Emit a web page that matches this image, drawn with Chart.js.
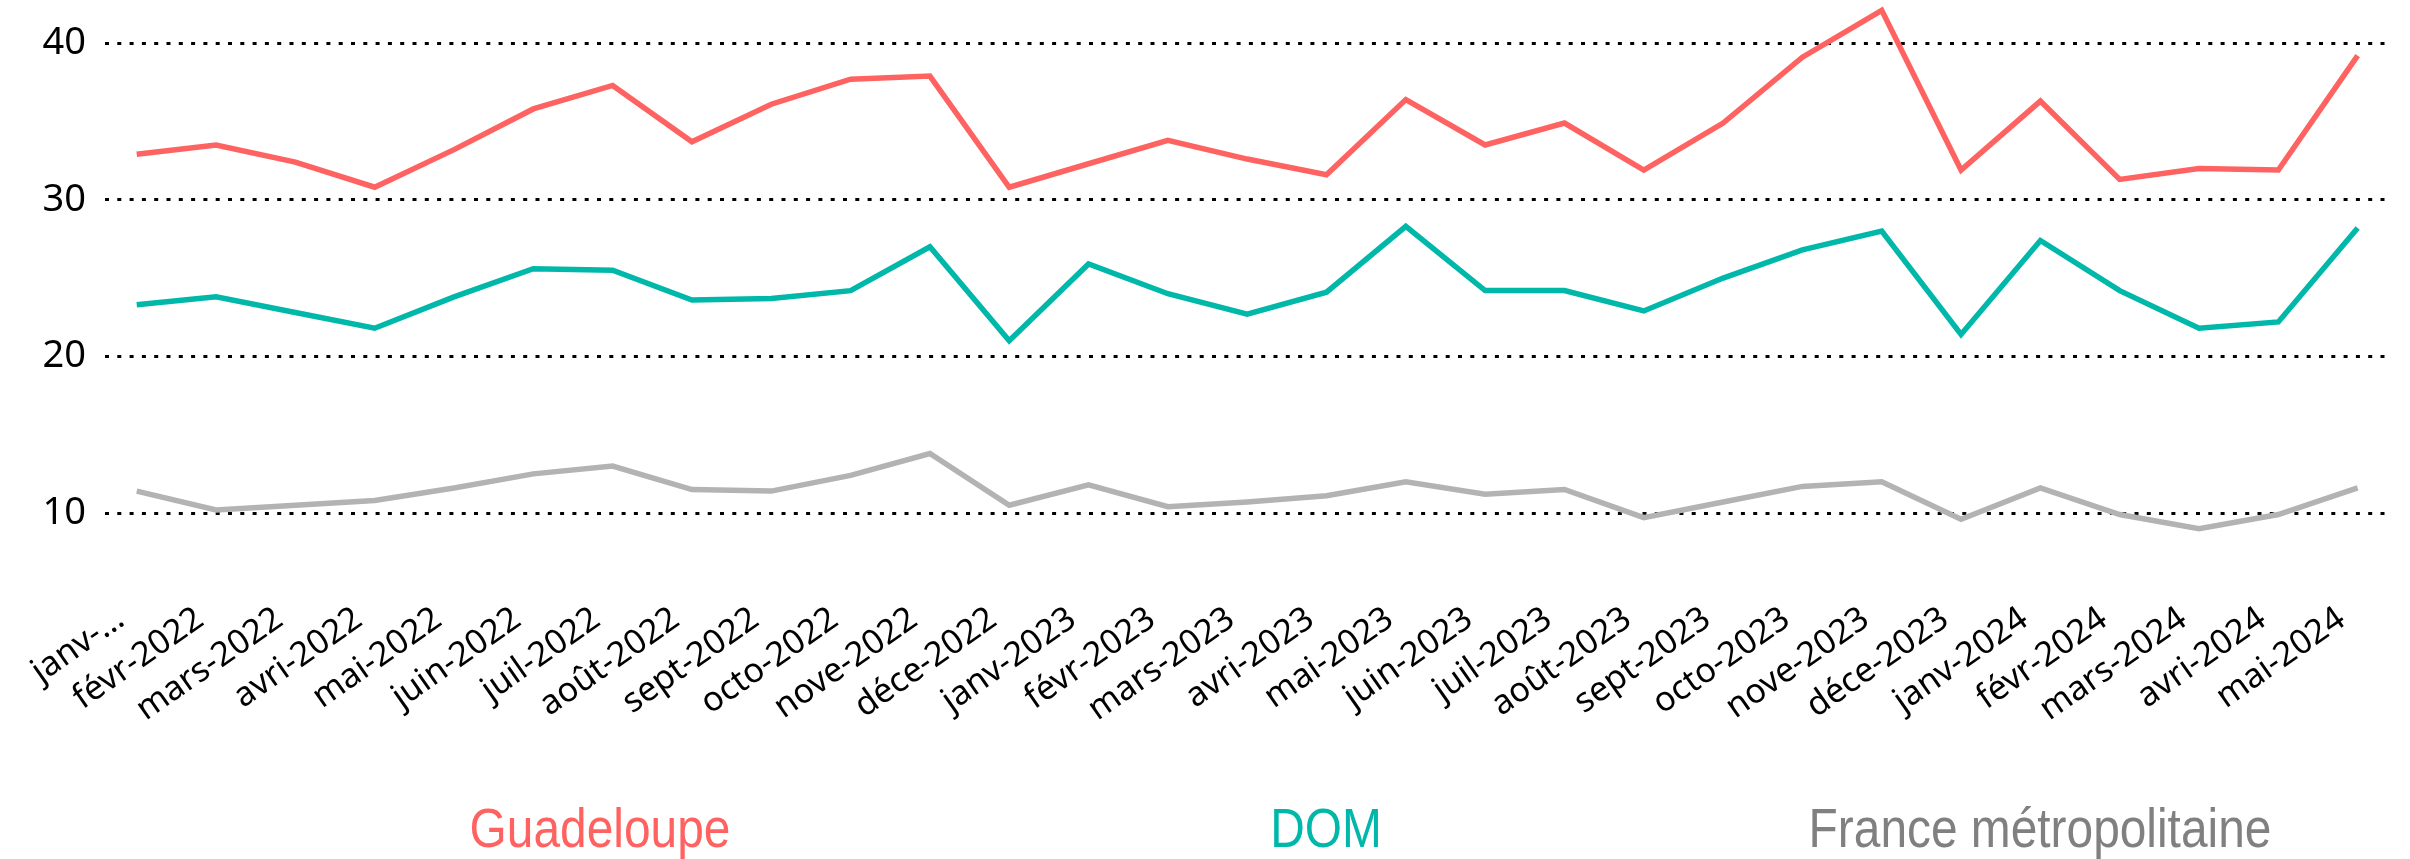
<!DOCTYPE html>
<html lang="fr">
<head>
<meta charset="utf-8">
<script src="https://cdn.jsdelivr.net/npm/chart.js@4"></script>
<style>
  html, body { margin: 0; padding: 0; background: #fff; }
  #wrap { position: relative; width: 2410px; height: 859px; }
  #chart { position: absolute; left: 0; top: 0; }
  #legend { position: absolute; left: 0; top: 801px; width: 2410px; height: 58px; }
  #legend span {
    position: absolute; top: 0; white-space: nowrap;
    transform: translateX(-50%) scaleX(0.87);
    font-family: "Liberation Sans", Arial, sans-serif;
    font-size: 55px; line-height: 55px;
  }
</style>
</head>
<body>
<div id="wrap">
  <canvas id="chart" width="2410" height="760"></canvas>
  <div id="legend"></div>
</div>
<script>
const months = [
  "janv-2022", "févr-2022", "mars-2022", "avri-2022", "mai-2022", "juin-2022",
  "juil-2022", "août-2022", "sept-2022", "octo-2022", "nove-2022", "déce-2022",
  "janv-2023", "févr-2023", "mars-2023", "avri-2023", "mai-2023", "juin-2023",
  "juil-2023", "août-2023", "sept-2023", "octo-2023", "nove-2023", "déce-2023",
  "janv-2024", "févr-2024", "mars-2024", "avri-2024", "mai-2024"
];

const guadeloupe = [
  32.9, 33.5, 32.4, 30.8, 33.2, 35.8, 37.3, 33.7, 36.1, 37.7, 37.9, 30.8,
  32.3, 33.8, 32.6, 31.6, 36.4, 33.5, 34.9, 31.9, 34.9, 39.1, 42.1, 31.9,
  36.3, 31.3, 32.0, 31.9, 39.2
];
const dom = [
  23.3, 23.8, 22.8, 21.8, 23.8, 25.6, 25.5, 23.6, 23.7, 24.2, 27.0, 21.0,
  25.9, 24.0, 22.7, 24.1, 28.3, 24.2, 24.2, 22.9, 25.0, 26.8, 28.0, 21.4,
  27.4, 24.2, 21.8, 22.2, 28.2
];
const franceMetro = [
  11.4, 10.2, 10.5, 10.8, 11.6, 12.5, 13.0, 11.5, 11.4, 12.4, 13.8, 10.5,
  11.8, 10.4, 10.7, 11.1, 12.0, 11.2, 11.5, 9.7, 10.7, 11.7, 12.0, 9.6,
  11.6, 9.9, 9.0, 9.9, 11.6
];

const yTicks = [10, 20, 30, 40];

const seriesNames = ["Guadeloupe", "DOM", "France métropolitaine"];
const lineColors = ["#ff6361", "#00b8a9", "#b3b3b3"];
const legendColors = ["#ff6361", "#00b8a9", "#808080"];

function toPoints(values) {
  return values.map((v, i) => ({ x: i, y: v }));
}

const fontFamily = "'Noto Sans', 'DejaVu Sans', sans-serif";

const ctx = document.getElementById("chart").getContext("2d");
const chart = new Chart(ctx, {
  type: "line",
  data: {
    datasets: [guadeloupe, dom, franceMetro].map((vals, i) => ({
      label: seriesNames[i],
      data: toPoints(vals),
      borderColor: lineColors[i],
      backgroundColor: lineColors[i],
      borderWidth: 5.5,
      pointRadius: 0,
      tension: 0,
      fill: false
    }))
  },
  options: {
    responsive: false,
    animation: false,
    layout: { autoPadding: false, padding: { top: 4, right: 23, left: 0, bottom: 0 } },
    plugins: {
      legend: { display: false },
      tooltip: { enabled: false }
    },
    scales: {
      x: {
        type: "linear",
        min: -0.4,
        max: months.length - 1 + 0.37,
        grid: { display: false, drawTicks: false },
        border: { display: false },
        afterBuildTicks: (scale) => {
          scale.ticks = months.map((m, i) => ({ value: i }));
        },
        afterFit: (scale) => {
          scale.height = 200;
          scale.paddingLeft = 0;
          scale.paddingRight = 0;
        },
        ticks: {
          autoSkip: false,
          minRotation: 35,
          maxRotation: 35,
          padding: 39,
          labelOffset: -16,
          color: "#000",
          font: { family: fontFamily, size: 34 },
          callback: (value) => {
            const label = months[value];
            if (label === undefined) return "";
            return value === 0 ? label.slice(0, 5) + "…" : label;
          }
        }
      },
      y: {
        min: 7,
        max: 42.5,
        grid: {
          color: "#000",
          lineWidth: 3,
          drawTicks: false
        },
        border: { display: false, dash: [4, 8.3] },
        afterBuildTicks: (scale) => {
          scale.ticks = yTicks.map((v) => ({ value: v }));
        },
        afterFit: (scale) => {
          scale.width = 105;
          scale.paddingTop = 0;
          scale.paddingBottom = 0;
        },
        ticks: {
          padding: 19,
          color: "#000",
          font: { family: fontFamily, size: 38 }
        }
      }
    }
  }
});

// legend as text under the chart, one item per dataset
const legendCenters = [600, 1326, 2040];
const legendEl = document.getElementById("legend");
chart.data.datasets.forEach((ds, i) => {
  const span = document.createElement("span");
  span.textContent = ds.label;
  span.style.color = legendColors[i];
  span.style.left = legendCenters[i] + "px";
  legendEl.appendChild(span);
});
</script>
</body>
</html>
